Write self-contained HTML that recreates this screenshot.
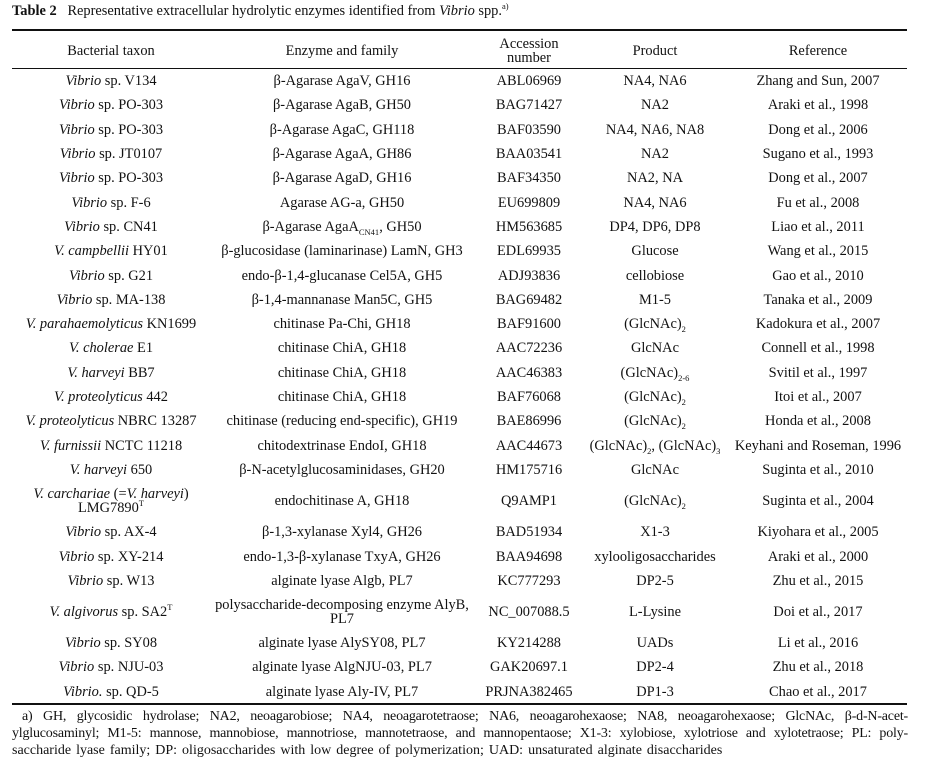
<!DOCTYPE html>
<html><head><meta charset="utf-8">
<style>
body{margin:0;width:937px;height:778px;background:#fff;position:relative;overflow:hidden;font-family:"Liberation Serif",serif;color:#111;}
.abs{position:absolute;}
.rule{position:absolute;left:12px;width:895px;background:#111;}
.cell{position:absolute;width:320px;text-align:center;font-size:14.4px;line-height:14px;white-space:nowrap;display:flex;align-items:center;justify-content:center;}
.cell>span{display:block;}
.fn{position:absolute;font-size:14px;white-space:nowrap;letter-spacing:-0.2px;}
.just{text-align:justify;text-align-last:justify;white-space:normal;}
sub,sup{font-size:8.5px;line-height:0;}
</style></head><body>
<div class="abs" style="left:12px;top:3px;font-size:14.4px;white-space:nowrap"><b>Table 2</b>&nbsp;&nbsp; Representative extracellular hydrolytic enzymes identified from <i>Vibrio</i> spp.<sup>a)</sup></div>
<div class="rule" style="top:29px;height:2px"></div>
<div class="rule" style="top:68px;height:1px"></div>
<div class="rule" style="top:703px;height:2px"></div>
<div id="tbl"></div>
<div class="fn just" style="left:22px;top:709px;width:886px">a) GH, glycosidic hydrolase; NA2, neoagarobiose; NA4, neoagarotetraose; NA6, neoagarohexaose; NA8, neoagarohexaose; GlcNAc, β-d-N-acet-</div>
<div class="fn just" style="left:12px;top:726px;width:896px">ylglucosaminyl; M1-5: mannose, mannobiose, mannotriose, mannotetraose, and mannopentaose; X1-3: xylobiose, xylotriose and xylotetraose; PL: poly-</div>
<div class="fn" style="left:12px;top:743px;letter-spacing:0px;word-spacing:1.5px">saccharide lyase family; DP: oligosaccharides with low degree of polymerization; UAD: unsaturated alginate disaccharides</div>
<script>
const centers=[111,342,529,655,818];
const header=["Bacterial taxon","Enzyme and family","Accession<br>number","Product","Reference"];
const rows=[
["<i>Vibrio</i> sp. V134","β-Agarase AgaV, GH16","ABL06969","NA4, NA6","Zhang and Sun, 2007"],
["<i>Vibrio</i> sp. PO-303","β-Agarase AgaB, GH50","BAG71427","NA2","Araki et al., 1998"],
["<i>Vibrio</i> sp. PO-303","β-Agarase AgaC, GH118","BAF03590","NA4, NA6, NA8","Dong et al., 2006"],
["<i>Vibrio</i> sp. JT0107","β-Agarase AgaA, GH86","BAA03541","NA2","Sugano et al., 1993"],
["<i>Vibrio</i> sp. PO-303","β-Agarase AgaD, GH16","BAF34350","NA2, NA","Dong et al., 2007"],
["<i>Vibrio</i> sp. F-6","Agarase AG-a, GH50","EU699809","NA4, NA6","Fu et al., 2008"],
["<i>Vibrio</i> sp. CN41","β-Agarase AgaA<sub>CN41</sub>, GH50","HM563685","DP4, DP6, DP8","Liao et al., 2011"],
["<i>V. campbellii</i> HY01","β-glucosidase (laminarinase) LamN, GH3","EDL69935","Glucose","Wang et al., 2015"],
["<i>Vibrio</i> sp. G21","endo-β-1,4-glucanase Cel5A, GH5","ADJ93836","cellobiose","Gao et al., 2010"],
["<i>Vibrio</i> sp. MA-138","β-1,4-mannanase Man5C, GH5","BAG69482","M1-5","Tanaka et al., 2009"],
["<i>V. parahaemolyticus</i> KN1699","chitinase Pa-Chi, GH18","BAF91600","(GlcNAc)<sub>2</sub>","Kadokura et al., 2007"],
["<i>V. cholerae</i> E1","chitinase ChiA, GH18","AAC72236","GlcNAc","Connell et al., 1998"],
["<i>V. harveyi</i> BB7","chitinase ChiA, GH18","AAC46383","(GlcNAc)<sub>2-6</sub>","Svitil et al., 1997"],
["<i>V. proteolyticus</i> 442","chitinase ChiA, GH18","BAF76068","(GlcNAc)<sub>2</sub>","Itoi et al., 2007"],
["<i>V. proteolyticus</i> NBRC 13287","chitinase (reducing end-specific), GH19","BAE86996","(GlcNAc)<sub>2</sub>","Honda et al., 2008"],
["<i>V. furnissii</i> NCTC 11218","chitodextrinase EndoI, GH18","AAC44673","(GlcNAc)<sub>2</sub>, (GlcNAc)<sub>3</sub>","Keyhani and Roseman, 1996"],
["<i>V. harveyi</i> 650","β-N-acetylglucosaminidases, GH20","HM175716","GlcNAc","Suginta et al., 2010"],
["<i>V. carchariae</i> (=<i>V. harveyi</i>)<br>LMG7890<sup>T</sup>","endochitinase A, GH18","Q9AMP1","(GlcNAc)<sub>2</sub>","Suginta et al., 2004"],
["<i>Vibrio</i> sp. AX-4","β-1,3-xylanase Xyl4, GH26","BAD51934","X1-3","Kiyohara et al., 2005"],
["<i>Vibrio</i> sp. XY-214","endo-1,3-β-xylanase TxyA, GH26","BAA94698","xylooligosaccharides","Araki et al., 2000"],
["<i>Vibrio</i> sp. W13","alginate lyase Algb, PL7","KC777293","DP2-5","Zhu et al., 2015"],
["<i>V. algivorus</i> sp. SA2<sup>T</sup>","polysaccharide-decomposing enzyme AlyB,<br>PL7","NC_007088.5","L-Lysine","Doi et al., 2017"],
["<i>Vibrio</i> sp. SY08","alginate lyase AlySY08, PL7","KY214288","UADs","Li et al., 2016"],
["<i>Vibrio</i> sp. NJU-03","alginate lyase AlgNJU-03, PL7","GAK20697.1","DP2-4","Zhu et al., 2018"],
["<i>Vibrio.</i> sp. QD-5","alginate lyase Aly-IV, PL7","PRJNA382465","DP1-3","Chao et al., 2017"]
];
const tbl=document.getElementById('tbl');
function addRow(cells,top,h,idx){
  cells.forEach((c,j)=>{
    const d=document.createElement('div');
    d.className='cell';
    d.style.left=(centers[j]-160)+'px';
    d.style.top=top+'px';
    d.style.height=h+'px';
    d.innerHTML='<span>'+c+'</span>';
    
    
    tbl.appendChild(d);
  });
}
addRow(header,35,32,-1);
let y=69;
rows.forEach((r,i)=>{
  const tall=r.some(c=>c.includes('<br>'));
  const h=tall?38:24.3;
  addRow(r,y,h,i);
  y+=h;
});
</script>
</body></html>
